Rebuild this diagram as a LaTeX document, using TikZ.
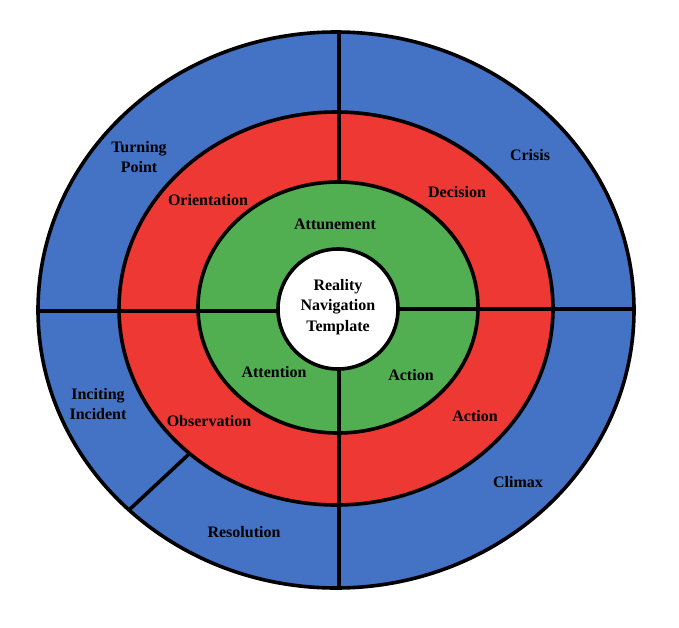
\documentclass[tikz,border=0pt]{standalone}
\usepackage{fontspec}
\setmainfont{Liberation Serif}
\definecolor{ringblue}{HTML}{4472C4}
\definecolor{ringred}{HTML}{EE3834}
\definecolor{ringgreen}{HTML}{51AF52}

\begin{document}
\begin{tikzpicture}[x=1pt,y=-1pt,
  rim/.style={draw=black,line width=3.6pt},
  lbl/.style={font=\fontsize{16}{20.5}\selectfont\bfseries,align=center}]
  \useasboundingbox (0,0) rectangle (679,627);
  \fill[white] (0,0) rectangle (679,627);
  % rings
  \draw[rim,fill=ringblue] (336,310) ellipse (298pt and 278pt);
  \draw[rim,fill=ringred] (336,308.5) ellipse (217pt and 196.5pt);
  \draw[rim,fill=ringgreen] (338,307.5) ellipse (140pt and 125.5pt);
  \draw[rim,fill=white] (338,309) circle (60pt);
  % dividers
  \coordinate (T1) at (339,32);
  \coordinate (T2) at (339,182);
  \coordinate (B1) at (339,369);
  \coordinate (B2) at (339,588);
  \coordinate (L1) at (38,311);
  \coordinate (L2) at (278,311);
  \coordinate (R1) at (398,309);
  \coordinate (R2) at (634,309);
  \coordinate (D1) at (189,454);
  \coordinate (D2) at (129,510);
  \draw[line width=3.6pt] (T1) -- (T2);
  \draw[line width=3.6pt] (B1) -- (B2);
  \draw[line width=3.6pt] (L1) -- (L2);
  \draw[line width=3.6pt] (R1) -- (R2);
  \draw[line width=3.6pt] (D1) -- (D2);
  % labels
  \node[lbl] (turning) at (139,157) {Turning\\Point};
  \node[lbl] (crisis) at (530,155) {Crisis};
  \node[lbl] (orient) at (208,200) {Orientation};
  \node[lbl] (decision) at (457,192) {Decision};
  \node[lbl] (attune) at (335,224) {Attunement};
  \node[lbl] (rnt) at (338,307) {Reality\\Navigation\\Template};
  \node[lbl] (attention) at (274,372) {Attention};
  \node[lbl] (actgreen) at (411,375) {Action};
  \node[lbl] (inciting) at (98,404) {Inciting\\Incident};
  \node[lbl] (observ) at (209,421) {Observation};
  \node[lbl] (actred) at (475,416) {Action};
  \node[lbl] (climax) at (518,482) {Climax};
  \node[lbl] (resol) at (244,532) {Resolution};
\end{tikzpicture}
\end{document}
